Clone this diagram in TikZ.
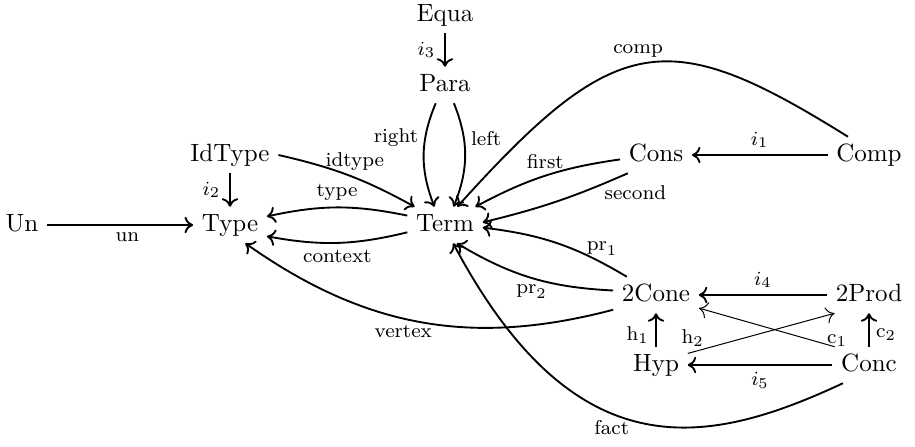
\documentclass[tikz,border=0pt]{standalone}
\usetikzlibrary{arrows.meta}
\begin{document}
\begin{tikzpicture}[x=0.4pt,y=0.4pt,
  obj/.style={inner sep=3.33pt, text height=1.5ex, text depth=0.25ex, font=\normalsize},
  arr/.style={line width=0.75pt, -{Computer Modern Rightarrow[length=3.4pt,width=6.6pt]}},
  thinarr/.style={line width=0.4pt, -{Computer Modern Rightarrow[length=3.4pt,width=6.6pt]}},
  lab/.style={font=\footnotesize, inner sep=2.5pt}]
\useasboundingbox (0,0) rectangle (915,447);
\node[obj] (Equa) at (445,432) {Equa};
\node[obj] (Para) at (445,362) {Para};
\node[obj] (IdType) at (230,292) {IdType};
\node[obj] (Cons) at (656,292) {Cons};
\node[obj] (Comp) at (869,292) {Comp};
\node[obj] (Un) at (22,222) {Un};
\node[obj] (Type) at (230,222) {Type};
\node[obj] (Term) at (445,222) {Term};
\node[obj] (cone) at (656,152) {2Cone};
\node[obj] (prod) at (869,152) {2Prod};
\node[obj] (Hyp) at (656,82) {Hyp};
\node[obj] (Conc) at (869,82) {Conc};

\draw[arr] (Equa) -- node[lab,left,inner sep=3.5pt]{$i_3$} (Para);
\draw[arr] (Para) to[bend right=22] node[lab,left,pos=0.33]{right} (Term.120);
\draw[arr] (Para) to[bend left=22] node[lab,right,pos=0.33]{left} (Term.65);
\draw[arr] (IdType.east) to[bend left=8] node[lab,above,pos=0.55]{idtype} (Term.149);
\draw[arr] (IdType) -- node[lab,left,inner sep=3.5pt]{$i_2$} (Type);
\draw[arr] (Un) -- node[lab,below,pos=0.55]{un} (Type);
\draw[arr] (Term.166) to[bend right=12] node[lab,above]{type} (Type.13);
\draw[arr] (Term.191) to[bend left=12] node[lab,below]{context} (Type.-17);
\draw[arr] (Comp.139) to[out=148,in=48,out distance=85pt,in distance=95pt] node[lab,above,pos=0.52]{comp} (Term.56);
\draw[arr] (Comp) -- node[lab,above]{$i_1$} (Cons);
\draw[arr] (Cons.187) to[bend right=10] node[lab,above]{first} (Term.31);
\draw[arr] (Cons.213) to[bend left=5] node[lab,at start,anchor=north,xshift=3pt,yshift=-2pt]{second} (Term.4);
\draw[arr] (cone.148) to[bend right=12] node[lab,above,pos=0.17]{$\mathrm{pr}_1$} (Term.-4);
\draw[arr] (cone.174) to[bend left=14] node[lab,below,pos=0.5]{$\mathrm{pr}_2$} (Term.-57);
\draw[arr] (cone.199) to[bend left=25] node[lab,below,pos=0.55]{vertex} (Type.-50);
\draw[arr] (Conc.215) to[out=205,in=-62,out distance=60pt,in distance=104pt] node[lab,below,pos=0.58]{fact} (Term.-66);
\draw[arr] (prod) -- node[lab,above]{$i_4$} (cone);
\draw[arr] (Conc) -- node[lab,below]{$i_5$} (Hyp);
\draw[arr] (Hyp) -- node[lab,left,pos=0.35]{$\mathrm{h}_1$} (cone);
\draw[arr] (Conc) -- node[lab,right,pos=0.35]{$\mathrm{c}_2$} (prod);
\draw[thinarr] (Hyp.20) -- node[lab,at start,above,xshift=2pt]{$\mathrm{h}_2$} (prod.208);
\draw[thinarr] (Conc.152) -- node[lab,at start,above,xshift=1pt,yshift=-2.5pt]{$\mathrm{c}_1$} (cone.-17);
\end{tikzpicture}
\end{document}
